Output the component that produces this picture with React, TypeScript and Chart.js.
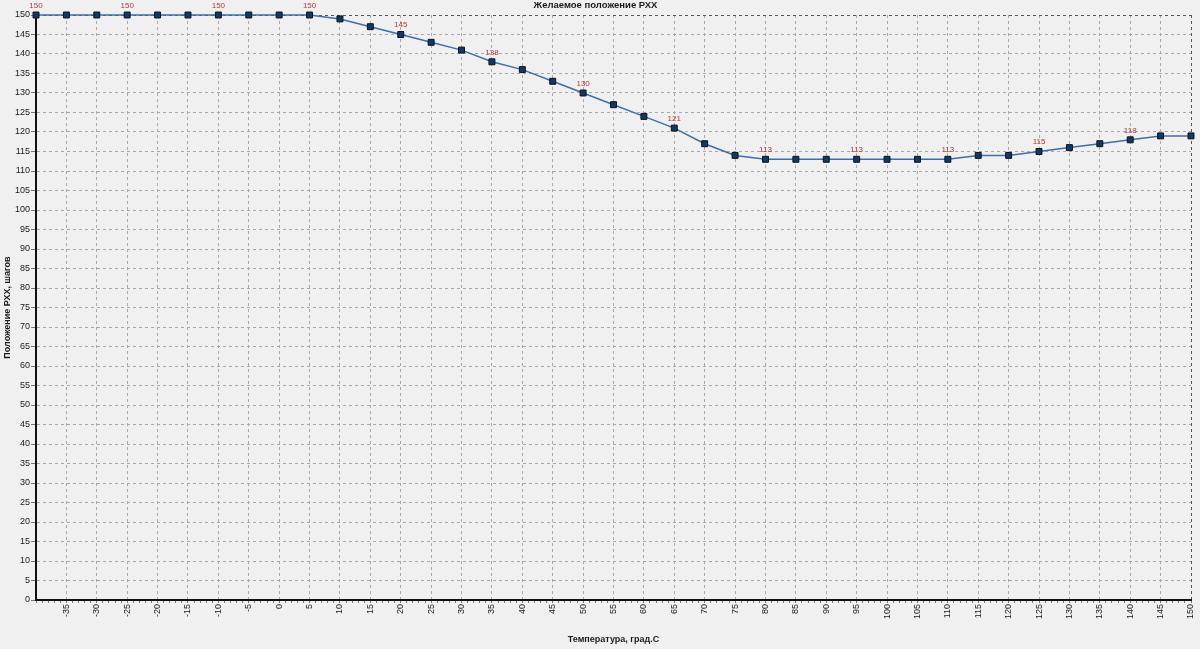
import React, { useEffect, useRef } from "react";
import { Chart, registerables } from "chart.js";

Chart.register(...registerables);

const temperatures: number[] = [
  -40, -35, -30, -25, -20, -15, -10, -5, 0, 5, 10, 15, 20, 25, 30, 35, 40, 45, 50, 55,
  60, 65, 70, 75, 80, 85, 90, 95, 100, 105, 110, 115, 120, 125, 130, 135, 140, 145, 150,
];
const positions: number[] = [
  150, 150, 150, 150, 150, 150, 150, 150, 150, 150, 149, 147, 145, 143, 141, 138, 136, 133, 130, 127,
  124, 121, 117, 114, 113, 113, 113, 113, 113, 113, 113, 114, 114, 115, 116, 117, 118, 119, 119,
];
const chartTitle = "Желаемое положение РХХ";
const xTitle = "Температура, град.С";
const yTitle = "Положение РХХ, шагов";

const FONT = "'Liberation Sans', Arial, sans-serif";

const valueLabels = {
  id: "valueLabels",
  afterDatasetsDraw(chart: any) {
    const ctx = chart.ctx;
    const meta = chart.getDatasetMeta(0);
    ctx.save();
    ctx.fillStyle = "#b23a3a";
    ctx.font = `8px ${FONT}`;
    ctx.textAlign = "center";
    ctx.textBaseline = "middle";
    meta.data.forEach((el: any, i: number) => {
      if (i % 3 === 0) {
        ctx.fillText(String(positions[i]), el.x, el.y - 9.5);
      }
    });
    ctx.restore();
  },
};

export default function App() {
  const ref = useRef<HTMLCanvasElement>(null);
  useEffect(() => {
    if (!ref.current) return;
    const chart = new Chart(ref.current, {
      type: "line",
      data: {
        datasets: [
          {
            data: temperatures.map((t, i) => ({ x: t, y: positions[i] })),
            borderColor: "#3d6fa6",
            borderWidth: 1.5,
            pointStyle: "rect",
            pointRadius: 4.2,
            pointBackgroundColor: "#0b3a6e",
            pointBorderColor: "#111111",
            pointBorderWidth: 1,
            tension: 0,
            clip: false as any,
          },
        ],
      },
      options: {
        responsive: false,
        animation: false,
        events: [],
        layout: { padding: { left: 0, right: 9, top: 0, bottom: 0 } },
        plugins: {
          legend: { display: false },
          tooltip: { enabled: false },
          title: {
            display: true,
            text: chartTitle,
            color: "#1a1a1a",
            font: { family: FONT, size: 9.5, weight: "bold" },
            padding: { top: 0, bottom: 3.6 },
          },
        },
        scales: {
          x: {
            type: "linear",
            min: -40,
            max: 150,
            afterFit: (scale: any) => {
              scale.height = 49;
              scale.paddingRight = 0;
              scale.paddingLeft = 0;
            },
            ticks: {
              stepSize: 1,
              autoSkip: false,
              minRotation: 90,
              maxRotation: 90,
              padding: 1,
              color: "#1a1a1a",
              font: { family: FONT, size: 9 },
              callback: (v: any) => {
                const n = Number(v);
                return n % 5 === 0 && n !== -40 ? String(n) : "";
              },
            },
            grid: {
              color: (c: any) => {
                const v = c.tick ? c.tick.value : 0;
                if (v === 150) return "#555555";
                return v % 5 === 0 ? "#a8a8a8" : "rgba(0,0,0,0)";
              },
              lineWidth: 1,
              tickLength: 3,
              tickColor: "#777777",
            },
            border: { display: true, color: "#111111", width: 2, dash: [3, 3] },
            title: {
              display: true,
              text: xTitle,
              color: "#1a1a1a",
              font: { family: FONT, size: 9, weight: "bold" },
              padding: { top: 0, bottom: 4 },
            },
          },
          y: {
            min: 0,
            max: 150,
            afterFit: (scale: any) => {
              scale.width = 36;
            },
            ticks: {
              stepSize: 5,
              autoSkip: false,
              padding: 1,
              color: "#1a1a1a",
              font: { family: FONT, size: 9 },
            },
            grid: {
              color: (c: any) => {
                const v = c.tick ? c.tick.value : 0;
                return v === 150 ? "#555555" : "#a8a8a8";
              },
              lineWidth: 1,
              tickLength: 5,
              tickColor: "#777777",
            },
            border: { display: true, color: "#111111", width: 2, dash: [3, 3] },
            title: {
              display: true,
              text: yTitle,
              color: "#1a1a1a",
              font: { family: FONT, size: 9, weight: "bold" },
              padding: { top: 2, bottom: 0 },
            },
          },
        },
      },
      plugins: [valueLabels],
    } as any);
    return () => chart.destroy();
  }, []);
  return (
    <div
      style={{
        position: "fixed",
        left: 0,
        top: 0,
        width: 1200,
        height: 649,
        background: "#f0f0f0",
      }}
    >
      <canvas ref={ref} width={1200} height={649} style={{ display: "block" }} />
    </div>
  );
}
